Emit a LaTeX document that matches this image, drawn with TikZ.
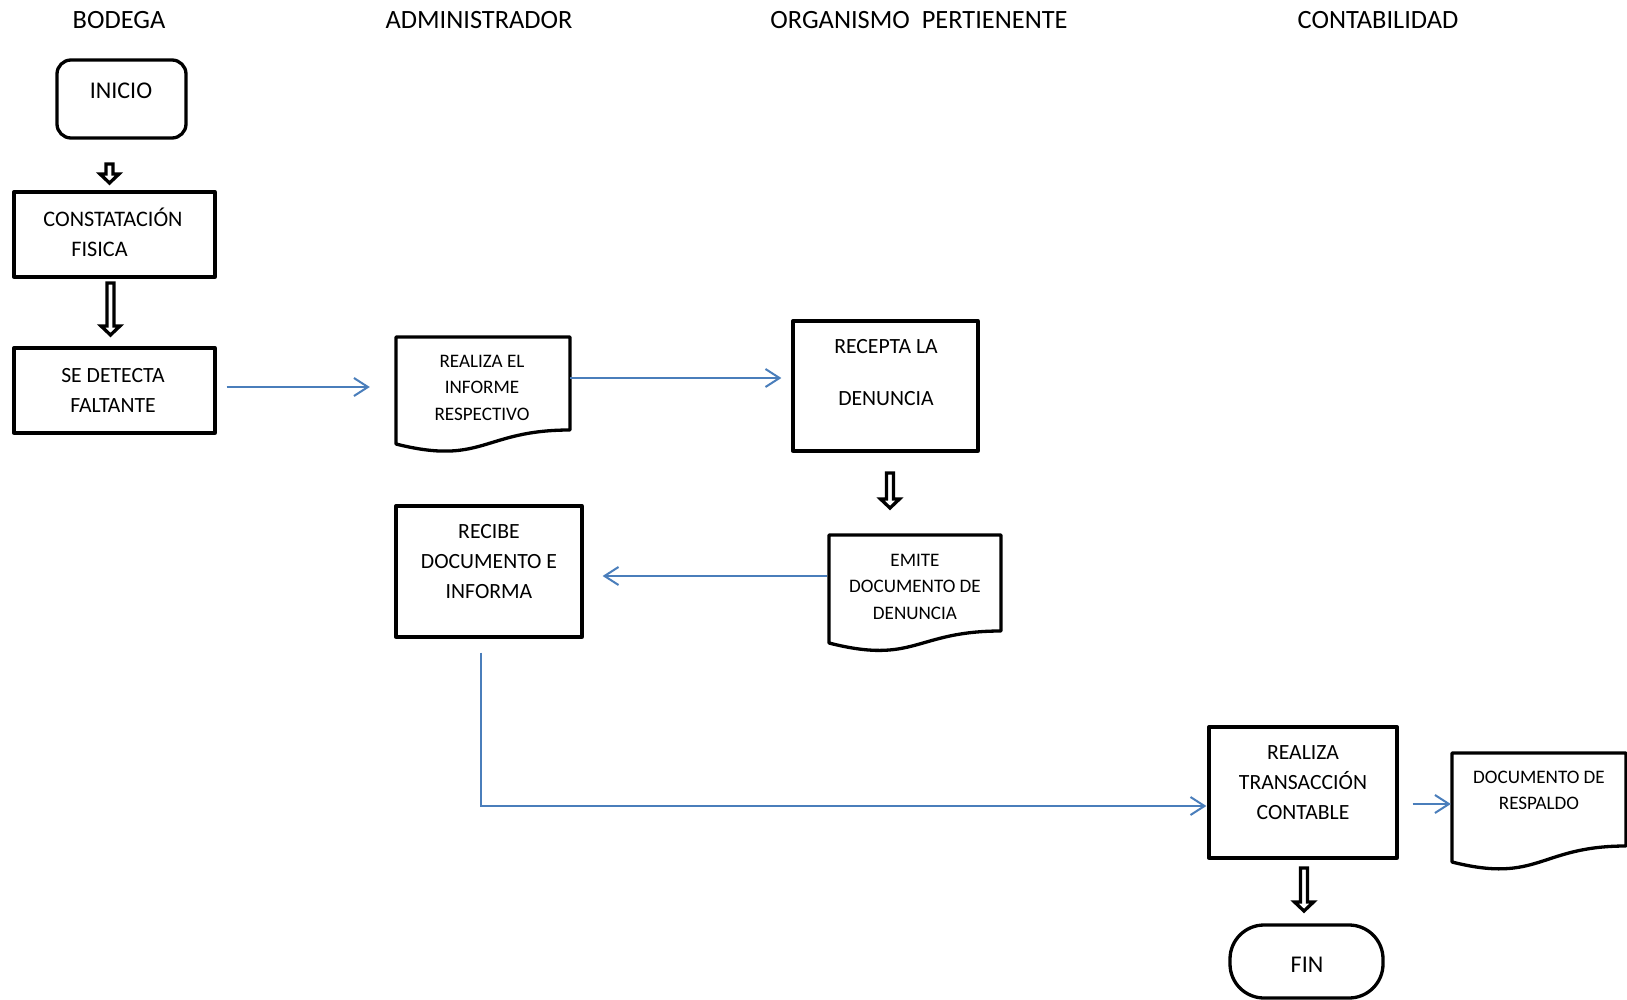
\documentclass[tikz,border=0pt]{standalone}
\usepackage{fontspec}
\setmainfont{Carlito}
\usetikzlibrary{arrows.meta,calc}
\definecolor{flowblue}{HTML}{4A7EBB}
\newcommand\docpath[5]{% left, top, right, right-bottom, left-bottom
  \draw[boxline,fill=white] (#1,#2) -- (#3,#2) -- (#3,#4)
    .. controls ({(#1+#3)/2},#4) and ({(#1+#3)/2},{#5+22}) .. (#1,#5) -- cycle;}
\newcommand\blockarrow[4]{% x, top, head start, tip
  \draw[blockline] ({#1-3.5},#2) -- ({#1+3.5},#2) -- ({#1+3.5},#3) -- ({#1+9.5},#3)
    -- (#1,#4) -- ({#1-9.5},#3) -- ({#1-3.5},#3) -- cycle;}
\begin{document}
\begin{tikzpicture}[x=1pt,y=-1pt,
  boxline/.style={line width=3.3pt,line join=round},
  box/.style={draw,boxline,rectangle,inner sep=0pt},
  ghost/.style={rectangle,inner sep=0pt},
  blockline/.style={line width=3.3pt,line join=miter,fill=white},
  flow/.style={draw=flowblue,line width=2pt,-{Straight Barb[length=14pt,width=18pt]}},
  title/.style={font=\fontsize{26.4}{30}\selectfont,inner sep=0pt},
  btext/.style={align=center,font=\fontsize{21.7}{30}\selectfont,inner sep=0pt},
  bigtext/.style={font=\fontsize{24}{30}\selectfont,inner sep=0pt},
  dtext/.style={align=center,font=\fontsize{19.1}{26.5}\selectfont,inner sep=0pt}]
\fill[white] (0,0) rectangle (1627,1000);
\useasboundingbox (0,0) rectangle (1627,1000);

% lane titles
\node[title] (h1) at (119,20) {BODEGA};
\node[title] (h2) at (479,20) {ADMINISTRADOR};
\node[title] (h3) at (919,20) {ORGANISMO\ \ PERTIENENTE};
\node[title] (h4) at (1378,20) {CONTABILIDAD};

% shapes
\node[box,rounded corners=14pt,minimum width=129pt,minimum height=78pt] (inicio) at (121.5,99) {};
\node[box,minimum width=201pt,minimum height=85pt] (constat) at (114.5,234.5) {};
\node[box,minimum width=201pt,minimum height=85pt] (detecta) at (114.5,390.5) {};
\node[ghost,minimum width=174pt,minimum height=107pt] (informe) at (483,390.5) {};
\docpath{396}{337}{570}{430}{444}
\node[box,minimum width=185pt,minimum height=130pt] (recepta) at (885.5,386) {};
\node[ghost,minimum width=172pt,minimum height=108pt] (emite) at (915,589) {};
\docpath{829}{535}{1001}{631}{643}
\node[box,minimum width=186pt,minimum height=131pt] (recibe) at (489,571.5) {};
\node[box,minimum width=188pt,minimum height=131pt] (transac) at (1303,792.5) {};
\node[ghost,minimum width=174pt,minimum height=109pt] (respaldo) at (1539,807.5) {};
\docpath{1452}{753}{1626}{846}{862}
\node[box,rounded corners=34pt,minimum width=153pt,minimum height=73pt] (fin) at (1306.5,961.5) {};

% texts
\node[bigtext] (tinicio) at (121,91) {INICIO};
\node[btext,align=left,font=\fontsize{22.2}{30}\selectfont] (tconstat) at (113,232) {CONSTATACIÓN\\\hspace*{28pt}FISICA};
\node[btext] (tdetecta) at (113,390) {SE DETECTA\\FALTANTE};
\node[dtext] (tinforme) at (482,387.5) {REALIZA EL\\INFORME\\RESPECTIVO};
\node[btext] (trecepta) at (886,373) {RECEPTA LA\\[22pt]DENUNCIA};
\node[dtext] (temite) at (915,586.5) {EMITE\\DOCUMENTO DE\\DENUNCIA};
\node[btext] (trecibe) at (489,562) {RECIBE\\DOCUMENTO E\\INFORMA};
\node[btext] (ttransac) at (1303,783) {REALIZA\\TRANSACCIÓN\\CONTABLE};
\node[dtext] (trespaldo) at (1539,790.5) {DOCUMENTO DE\\RESPALDO};
\node[bigtext] (tfin) at (1307,965) {FIN};

% block arrows
\blockarrow{109.5}{164}{174}{183}
\blockarrow{110.5}{283}{326}{335}
\blockarrow{890}{473}{499}{508}
\blockarrow{1304}{868}{902}{911}

% blue connectors
\coordinate (a1s) at ([yshift=3.5pt]detecta.east);
\draw[flow,shorten <=10pt,shorten >=26pt] (a1s) -- (a1s -| informe.west);
\coordinate (a2s) at ([yshift=12.5pt]informe.east);
\draw[flow,shorten >=10pt] (a2s) -- (a2s -| recepta.west);
\coordinate (a3s) at ([yshift=13pt,xshift=-2pt]emite.west);
\draw[flow,shorten >=19pt] (a3s) -- (a3s -| recibe.east);
\coordinate (a4s) at ([xshift=-8pt]recibe.south);
\coordinate (a4e) at ([yshift=-13.5pt]transac.west);
\draw[flow,shorten <=14pt,shorten >=1pt] (a4s) |- (a4e);
\coordinate (a5s) at ([yshift=-11.5pt]transac.east);
\draw[flow,shorten <=14pt,shorten >=1pt] (a5s) -- (a5s -| respaldo.west);
\end{tikzpicture}
\end{document}
